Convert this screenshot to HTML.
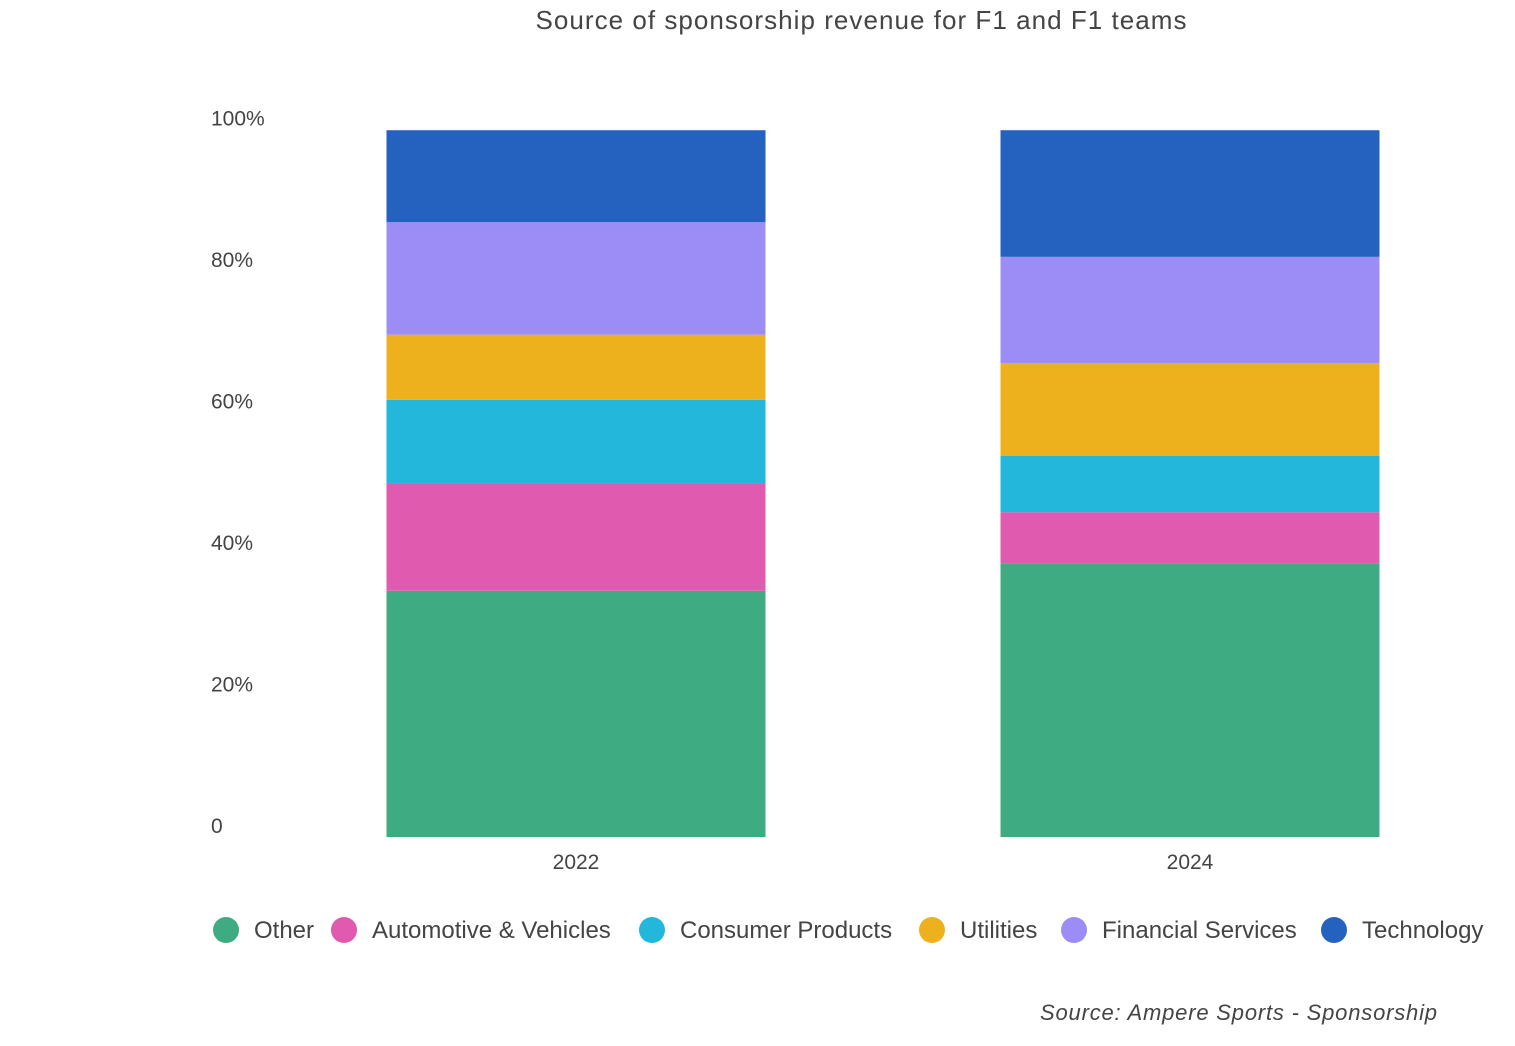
<!DOCTYPE html>
<html><head><meta charset="utf-8"><style>
body{margin:0;background:#fff;width:1515px;height:1046px;overflow:hidden;font-family:"Liberation Sans",sans-serif;}
</style></head><body>
<svg width="1515" height="1046" style="position:absolute;left:0;top:0">
<text x="861" y="29" text-anchor="middle" font-size="26" fill="#444" textLength="651" lengthAdjust="spacing">Source of sponsorship revenue for F1 and F1 teams</text>
<g id="yaxis"></g>
<g id="bars"></g>
<g id="xaxis"></g>
<g id="legend"></g>
<text x="1040" y="1020" font-size="22" font-style="italic" fill="#444" textLength="397" lengthAdjust="spacing">Source: Ampere Sports - Sponsorship</text>
</svg>
<script>
const categories=["2022","2024"];
const seriesNames=["Other","Automotive & Vehicles","Consumer Products","Utilities","Financial Services","Technology"];
const other=[34.8,38.7];
const automotive=[15.1,7.2];
const consumer=[11.9,8.0];
const utilities=[9.2,13.1];
const financial=[15.9,15.0];
const technology=[13.0,17.9];
const yTicks=[0,20,40,60,80,100];
const yTickLabels=["0","20%","40%","60%","80%","100%"];
const colors=["#3fab83","#e05ab0","#22b7db","#edb11e","#9c8cf6","#2561be"];
const series=[other,automotive,consumer,utilities,financial,technology];
const NS="http://www.w3.org/2000/svg";
const y0=837,pxPer=7.075;
const y=v=>y0-v*pxPer;
const xCenter=i=>576+i*614;
const barW=379;
function mk(tag,attrs,parent){const e=document.createElementNS(NS,tag);for(const k in attrs)e.setAttribute(k,attrs[k]);parent.appendChild(e);return e;}
const ya=document.getElementById('yaxis');
yTicks.forEach((t,i)=>{const e=mk('text',{x:211,y:y(t)-4,'font-size':21,fill:'#444'},ya);e.textContent=yTickLabels[i];

});
const bg=document.getElementById('bars');
categories.forEach((c,i)=>{let acc=0;series.forEach((s,j)=>{const v=s[i];
const r=mk('rect',{x:xCenter(i)-barW/2,y:y(acc+v),width:barW,height:v*pxPer,fill:colors[j]},bg);


acc+=v;});
const t=mk('text',{x:xCenter(i),y:869,'text-anchor':'middle','font-size':21,fill:'#444'},document.getElementById('xaxis'));t.textContent=c;

});
const lg=document.getElementById('legend');
const lx=[226,344,652,932,1074,1334];
seriesNames.forEach((n,j)=>{const g=mk('g',{},lg);


mk('circle',{cx:lx[j],cy:930,r:13,fill:colors[j]},g);
const t=mk('text',{x:lx[j]+28,y:938,'font-size':24,fill:'#444'},g);t.textContent=n;});
</script>
</body></html>
